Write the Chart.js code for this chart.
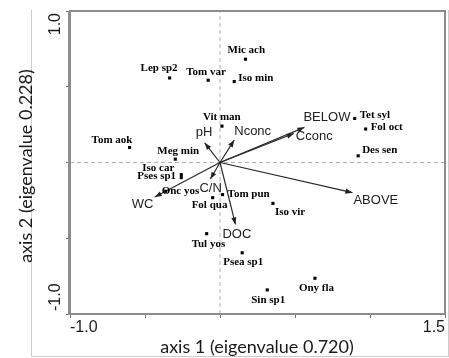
<!DOCTYPE html>
<html>
<head>
<meta charset="utf-8">
<script src="https://cdn.jsdelivr.net/npm/chart.js@4"></script>
<style>
html, body { margin: 0; padding: 0; background: #fff; }
</style>
</head>
<body>
<canvas id="ordination" width="449" height="358"></canvas>
<script>
// species scores (axis 1, axis 2)
const speciesNames = ['Lep sp2', 'Tom var', 'Mic ach', 'Iso min', 'Vit man', 'Meg min', 'Tom aok',
    'Iso car', 'Pses sp1', 'Onc yos', 'Fol qua', 'Tom pun', 'Iso vir', 'Tul yos', 'Psea sp1',
    'Sin sp1', 'Ony fla', 'Tet syl', 'Fol oct', 'Des sen'];
const speciesX = [-0.336, -0.079, 0.170, 0.095, 0.013, -0.298, -0.603,
    -0.258, -0.258, -0.362, -0.049, 0.017, 0.353, -0.089, 0.148,
    0.315, 0.633, 0.898, 0.971, 0.921];
const speciesY = [0.558, 0.543, 0.682, 0.534, 0.240, 0.022, 0.099,
    -0.080, -0.100, -0.190, -0.232, -0.212, -0.270, -0.470, -0.596,
    -0.841, -0.764, 0.291, 0.221, 0.044];

// environmental variable arrows
const envNames = ['BELOW', 'Cconc', 'Nconc', 'pH', 'ABOVE', 'DOC', 'C/N', 'WC'];
const envX = [0.563, 0.492, 0.095, -0.102, 0.883, 0.103, -0.064, -0.435];
const envY = [0.232, 0.191, 0.148, 0.130, -0.199, -0.409, -0.109, -0.228];

// axes
const xLimits = [-1.0, 1.5];
const yLimits = [-1.0, 1.0];
const xTickLabels = ['-1.0', '1.5'];
const yTickLabels = ['-1.0', '1.0'];
const xTitle = 'axis 1 (eigenvalue 0.720)';
const yTitle = 'axis 2 (eigenvalue 0.228)';

// label placement in pixels relative to the point (left edge, middle)
const speciesLabelOffset = [[-29, -10], [-22, -8], [-18, -9], [4, -3], [-19, -9], [-18, -8], [-38, -7],
    [-39, -6], [-44, -1], [-4, 0], [-21, 8], [5, 0], [2, 9], [-15, 10], [-19, 9],
    [-16, 10], [-16, 10], [5, -3], [5, -2], [4, -6]];
const envLabelOffset = [[-1, -10], [2, 3], [0, -9], [-9, -10], [1, 8], [-13, 10], [-11, 9], [-23, 7]];

const arrowDatasets = envNames.map((name, i) => ({
    label: name,
    data: [{x: 0, y: 0}, {x: envX[i], y: envY[i]}],
    showLine: true,
    borderColor: '#2a2a2a',
    borderWidth: 1.2,
    pointRadius: 0,
    order: 2
}));

const annotate = {
    id: 'annotate',
    beforeDraw(chart) {
        const ctx = chart.ctx;
        ctx.save();
        ctx.strokeStyle = '#cccccc';
        ctx.lineWidth = 1;
        ctx.beginPath();
        ctx.moveTo(31.5, 10);
        ctx.lineTo(31.5, 356.5);
        ctx.lineTo(449, 356.5);
        ctx.moveTo(448.5, 10);
        ctx.lineTo(448.5, 356.5);
        ctx.stroke();
        ctx.restore();
    },
    afterDatasetsDraw(chart) {
        const ctx = chart.ctx;
        const xs = chart.scales.x, ys = chart.scales.y;
        const x0 = xs.getPixelForValue(0), y0 = ys.getPixelForValue(0);
        ctx.save();
        ctx.fillStyle = '#222';
        envNames.forEach((name, i) => {
            const x1 = xs.getPixelForValue(envX[i]);
            const y1 = ys.getPixelForValue(envY[i]);
            const a = Math.atan2(y1 - y0, x1 - x0);
            const len = 7, half = 2.6;
            ctx.beginPath();
            ctx.moveTo(x1, y1);
            ctx.lineTo(x1 - len * Math.cos(a) + half * Math.sin(a), y1 - len * Math.sin(a) - half * Math.cos(a));
            ctx.lineTo(x1 - len * Math.cos(a) - half * Math.sin(a), y1 - len * Math.sin(a) + half * Math.cos(a));
            ctx.closePath();
            ctx.fill();
            ctx.font = '13px "Liberation Sans", Arial, sans-serif';
            ctx.textAlign = 'left';
            ctx.textBaseline = 'middle';
            ctx.fillText(name, x1 + envLabelOffset[i][0], y1 + envLabelOffset[i][1]);
        });
        ctx.fillStyle = '#000';
        ctx.font = 'bold 11px "Liberation Serif", "Times New Roman", serif';
        speciesNames.forEach((name, i) => {
            const px = xs.getPixelForValue(speciesX[i]);
            const py = ys.getPixelForValue(speciesY[i]);
            ctx.fillText(name, px + speciesLabelOffset[i][0], py + speciesLabelOffset[i][1]);
        });
        ctx.restore();
    },
    afterDraw(chart) {
        const ctx = chart.ctx;
        const a = chart.chartArea;
        ctx.save();
        // plot frame
        ctx.strokeStyle = '#8c8c8c';
        ctx.lineWidth = 2;
        ctx.strokeRect(a.left, a.top, a.right - a.left, a.bottom - a.top);
        ctx.lineWidth = 3;
        ctx.beginPath();
        ctx.moveTo(a.left - 0.5, a.top);
        ctx.lineTo(a.left - 0.5, a.bottom + 1);
        ctx.stroke();

        // tick labels
        ctx.fillStyle = '#1a1a1a';
        ctx.font = '16px "Liberation Sans", Arial, sans-serif';
        ctx.textBaseline = 'middle';
        ctx.textAlign = 'left';
        ctx.fillText(xTickLabels[0], chart.scales.x.getPixelForValue(xLimits[0]), 328);
        ctx.textAlign = 'right';
        ctx.fillText(xTickLabels[1], chart.scales.x.getPixelForValue(xLimits[1]), 328);

        ctx.save();
        ctx.translate(56, chart.scales.y.getPixelForValue(yLimits[0]) - 3);
        ctx.rotate(-Math.PI / 2);
        ctx.textAlign = 'left';
        ctx.fillText(yTickLabels[0], 0, 0);
        ctx.restore();
        ctx.save();
        ctx.translate(56, chart.scales.y.getPixelForValue(yLimits[1]) + 2);
        ctx.rotate(-Math.PI / 2);
        ctx.textAlign = 'right';
        ctx.fillText(yTickLabels[1], 0, 0);
        ctx.restore();

        // axis titles
        ctx.font = '18px Lato, "Open Sans", sans-serif';
        ctx.textAlign = 'center';
        ctx.fillText(xTitle, 257, 347);
        ctx.translate(26, 166);
        ctx.rotate(-Math.PI / 2);
        ctx.fillText(yTitle, 0, 0);
        ctx.restore();
    }
};

new Chart(document.getElementById('ordination'), {
    type: 'scatter',
    data: {
        datasets: [
            {
                label: 'species',
                data: speciesX.map((x, i) => ({x: x, y: speciesY[i]})),
                pointStyle: 'rect',
                pointRadius: 2.2,
                pointBorderWidth: 0,
                backgroundColor: '#000',
                order: 1
            },
            ...arrowDatasets,
            {
                label: 'zero x',
                data: [{x: 0, y: yLimits[0]}, {x: 0, y: yLimits[1]}],
                showLine: true,
                borderColor: '#b4b4b4',
                borderWidth: 1,
                borderDash: [4, 3],
                pointRadius: 0,
                order: 3
            },
            {
                label: 'zero y',
                data: [{x: xLimits[0], y: 0}, {x: xLimits[1], y: 0}],
                showLine: true,
                borderColor: '#b4b4b4',
                borderWidth: 1,
                borderDash: [4, 3],
                pointRadius: 0,
                order: 3
            }
        ]
    },
    options: {
        responsive: false,
        animation: false,
        layout: { padding: { left: 0, top: 11, right: 1.5, bottom: 0 } },
        plugins: { legend: { display: false }, tooltip: { enabled: false } },
        scales: {
            x: {
                type: 'linear',
                min: xLimits[0],
                max: xLimits[1],
                ticks: { stepSize: 0.5, display: false },
                grid: { drawOnChartArea: false, drawTicks: true, tickLength: 4, tickColor: '#777' },
                border: { display: false },
                afterFit(scale) { scale.height = 44; }
            },
            y: {
                type: 'linear',
                min: yLimits[0],
                max: yLimits[1],
                ticks: { stepSize: 0.5, display: false },
                grid: { drawOnChartArea: false, drawTicks: true, tickLength: 4, tickColor: '#777' },
                border: { display: false },
                afterFit(scale) { scale.width = 70; }
            }
        }
    },
    plugins: [annotate]
});
</script>
</body>
</html>
